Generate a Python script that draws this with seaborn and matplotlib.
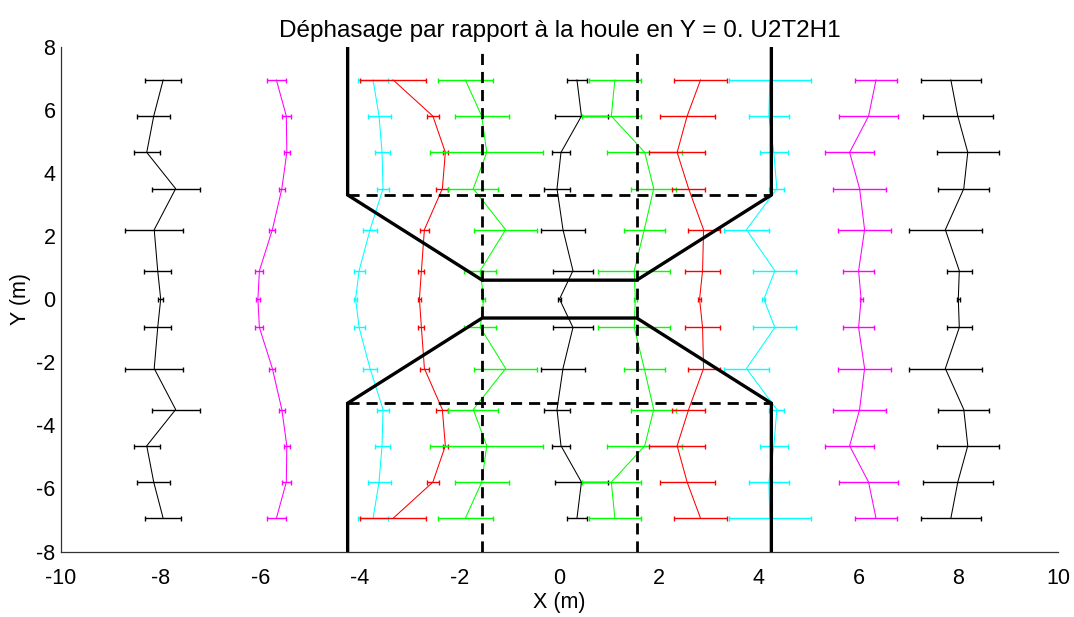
import numpy as np
import pandas as pd
import matplotlib
matplotlib.use("Agg")
import matplotlib.pyplot as plt
import seaborn as sns

# ---------------- data ----------------
y_rows = [6.95, 5.8, 4.65, 3.5, 2.2, 0.9, 0.0, -0.9, -2.2, -3.5, -4.65, -5.8, -6.95]

k_left_x = [-7.95, -8.14, -8.28, -7.70, -8.13, -8.06, -8.00, -8.06, -8.13, -7.70, -8.28, -8.14, -7.95]
k_left_e = [0.36, 0.33, 0.26, 0.48, 0.58, 0.27, 0.05, 0.27, 0.58, 0.48, 0.26, 0.33, 0.36]

m_left_x = [-5.68, -5.48, -5.47, -5.57, -5.76, -6.02, -6.05, -6.02, -5.76, -5.57, -5.47, -5.48, -5.68]
m_left_e = [0.19, 0.09, 0.06, 0.06, 0.06, 0.08, 0.04, 0.08, 0.06, 0.06, 0.06, 0.09, 0.19]

c_left_x = [-3.74, -3.62, -3.56, -3.54, -3.80, -4.02, -4.09, -4.02, -3.80, -3.54, -3.56, -3.62, -3.74]
c_left_e = [0.30, 0.23, 0.15, 0.12, 0.14, 0.11, 0.03, 0.11, 0.14, 0.12, 0.15, 0.23, 0.30]

r_left_x = [-3.34, -2.54, -2.29, -2.35, -2.71, -2.77, -2.81, -2.77, -2.71, -2.35, -2.29, -2.54, -3.34]
r_left_e = [0.66, 0.12, 0.05, 0.12, 0.09, 0.06, 0.03, 0.06, 0.09, 0.12, 0.05, 0.12, 0.66]

g_left_x = [-1.89, -1.56, -1.46, -1.73, -1.08, -1.59, -1.52, -1.59, -1.08, -1.73, -1.46, -1.56, -1.89]
g_left_e = [0.55, 0.54, 1.13, 0.50, 0.63, 0.32, 0.03, 0.32, 0.63, 0.50, 1.13, 0.54, 0.55]

k_mid_x = [0.35, 0.44, 0.03, -0.05, 0.07, 0.27, 0.00, 0.27, 0.07, -0.05, 0.03, 0.44, 0.35]
k_mid_e = [0.20, 0.53, 0.18, 0.27, 0.44, 0.40, 0.03, 0.40, 0.44, 0.27, 0.18, 0.53, 0.20]

g_right_x = [1.11, 1.04, 1.71, 1.89, 1.70, 1.50, 1.52, 1.50, 1.70, 1.89, 1.71, 1.04, 1.11]
g_right_e = [0.52, 0.59, 0.75, 0.45, 0.41, 0.72, 0.03, 0.72, 0.41, 0.45, 0.75, 0.59, 0.52]

r_right_x = [2.83, 2.56, 2.36, 2.59, 2.89, 2.87, 2.81, 2.87, 2.89, 2.59, 2.36, 2.56, 2.83]
r_right_e = [0.54, 0.55, 0.56, 0.33, 0.32, 0.35, 0.03, 0.35, 0.32, 0.33, 0.56, 0.55, 0.54]

c_right_x = [4.22, 4.20, 4.30, 4.36, 3.75, 4.32, 4.10, 4.32, 3.75, 4.36, 4.30, 4.20, 4.22]
c_right_e = [0.82, 0.40, 0.28, 0.15, 0.45, 0.43, 0.03, 0.43, 0.45, 0.15, 0.28, 0.40, 0.82]

m_right_x = [6.35, 6.20, 5.82, 6.02, 6.12, 6.00, 6.05, 6.00, 6.12, 6.02, 5.82, 6.20, 6.35]
m_right_e = [0.43, 0.60, 0.49, 0.53, 0.53, 0.31, 0.03, 0.31, 0.53, 0.53, 0.49, 0.60, 0.43]

k_right_x = [7.85, 7.99, 8.19, 8.11, 7.74, 8.02, 8.00, 8.02, 7.74, 8.11, 8.19, 7.99, 7.85]
k_right_e = [0.60, 0.70, 0.62, 0.51, 0.73, 0.25, 0.03, 0.25, 0.73, 0.51, 0.62, 0.70, 0.60]

series = [
    ("k1", k_left_x, k_left_e, "#000000"),
    ("m1", m_left_x, m_left_e, "#ff00ff"),
    ("c1", c_left_x, c_left_e, "#00ffff"),
    ("r1", r_left_x, r_left_e, "#ff0000"),
    ("g1", g_left_x, g_left_e, "#00ff00"),
    ("k0", k_mid_x, k_mid_e, "#000000"),
    ("g2", g_right_x, g_right_e, "#00ff00"),
    ("r2", r_right_x, r_right_e, "#ff0000"),
    ("c2", c_right_x, c_right_e, "#00ffff"),
    ("m2", m_right_x, m_right_e, "#ff00ff"),
    ("k2", k_right_x, k_right_e, "#000000"),
]

# structure (channel walls)
wall_x = [4.25]
neck_x = [1.55]
wall_y = [3.3]
neck_y = [0.6]

title = "Déphasage par rapport à la houle en Y = 0. U2T2H1"
x_ticks = [-10, -8, -6, -4, -2, 0, 2, 4, 6, 8, 10]
y_ticks = [-8, -6, -4, -2, 0, 2, 4, 6, 8]

# ---------------- plot ----------------
sns.set_style("white")
plt.rcParams["font.family"] = ["Liberation Sans", "DejaVu Sans"]
plt.rcParams["text.color"] = "black"
plt.rcParams["axes.labelcolor"] = "black"

fig = plt.figure(figsize=(10.74, 6.17), dpi=100)
ax = fig.add_axes([61 / 1074, 1 - 551.5 / 617, (1058 - 61) / 1074, (551.5 - 46.7) / 617])

for name, xs, es, col in series:
    df = pd.DataFrame({"x": xs, "y": y_rows})
    sns.lineplot(data=df, x="x", y="y", sort=False, estimator=None, color=col,
                 lw=0.75, ax=ax, zorder=2)
    ax.errorbar(xs, y_rows, xerr=es, fmt="none", ecolor=col, elinewidth=1.0,
                capsize=1.8, capthick=1.0, zorder=2)

wx, nx, wy, ny = wall_x[0], neck_x[0], wall_y[0], neck_y[0]
solid_kw = dict(color="black", lw=2.4, zorder=5, solid_joinstyle="miter")
for s in (1, -1):
    ax.plot([-wx, -wx, -nx, nx, wx, wx], [8 * s, wy * s, ny * s, ny * s, wy * s, 8 * s], **solid_kw)
dash_kw = dict(color="black", lw=2.0, ls=(0, (4, 2.5)), zorder=5)
for s in (1, -1):
    ax.plot([-wx, wx], [wy * s, wy * s], **dash_kw)
    ax.plot([nx * s, nx * s], [-8, 8], **dash_kw)

ax.set_xlim(-10, 10)
ax.set_ylim(-8, 8)
ax.set_xticks(x_ticks)
ax.set_yticks(y_ticks)
ax.set_xticklabels([str(t) for t in x_ticks])
ax.set_yticklabels([str(t) for t in y_ticks])
ax.tick_params(axis="both", direction="in", length=7, width=0.8, labelsize=15.5,
               colors="black")
ax.tick_params(axis="x", pad=12)
ax.tick_params(axis="y", pad=4)
sns.despine(ax=ax, top=True, right=True)
for sp in ("left", "bottom"):
    ax.spines[sp].set_color("#333333")
    ax.spines[sp].set_linewidth(0.9)

ax.set_xlabel("X (m)", fontsize=15.5, labelpad=2, color="black")
ax.set_ylabel("Y (m)", fontsize=15.5, labelpad=4, color="black")
ax.set_title(title, fontsize=17.5, pad=7, color="black")
ax.grid(False)

fig.savefig("out.png", dpi=100)
